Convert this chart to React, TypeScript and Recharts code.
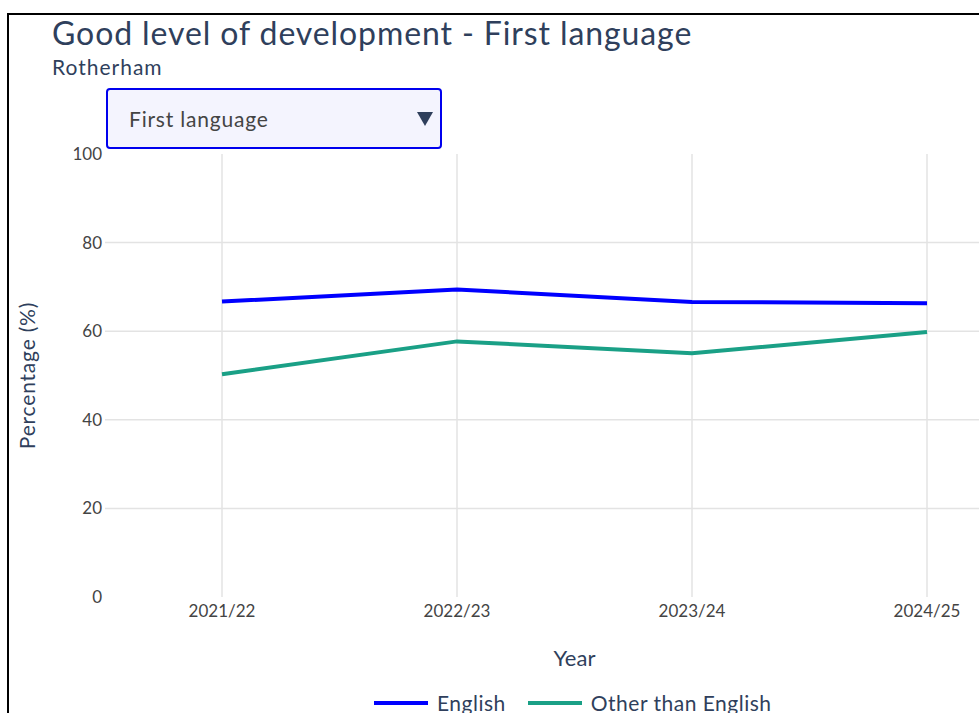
import { LineChart, Line, XAxis, YAxis, CartesianGrid } from 'recharts';

const years = ['2021/22', '2022/23', '2023/24', '2024/25'];
const english = [66.7, 69.4, 66.6, 66.3];
const otherThanEnglish = [50.3, 57.7, 55.0, 59.8];
const yTicks = [0, 20, 40, 60, 80, 100];

const data = years.map((year, i) => ({
  year,
  english: english[i],
  other: otherThanEnglish[i],
}));

const FONT = 'Lato, "Open Sans", sans-serif';
const TEXT = '#2f3f5c';
const TICK = '#444';
const BLUE = '#0000ff';
const TEAL = '#1aa086';

function LegendItem({ color, label }: { color: string; label: string }) {
  return (
    <div style={{ display: 'flex', alignItems: 'center', gap: 9 }}>
      <div style={{ width: 54, height: 4, background: color }} />
      <span>{label}</span>
    </div>
  );
}

export default function App() {
  return (
    <div
      style={{
        position: 'fixed',
        left: 0,
        top: 0,
        width: 979,
        height: 713,
        overflow: 'hidden',
        background: '#fff',
        fontFamily: FONT,
      }}
    >
      <div
        style={{
          position: 'absolute',
          left: 7,
          top: 13,
          width: 1100,
          height: 800,
          border: '2px solid #000',
        }}
      />
      <div
        style={{
          position: 'absolute',
          left: 52,
          top: 13,
          fontSize: 32,
          letterSpacing: 0.9,
          color: TEXT,
          whiteSpace: 'nowrap',
        }}
      >
        Good level of development - First language
      </div>
      <div style={{ position: 'absolute', left: 52, top: 54, fontSize: 21, letterSpacing: 1, color: TEXT }}>
        Rotherham
      </div>

      <div style={{ position: 'absolute', left: 0, top: 0 }}>
        <LineChart width={1044} height={713} data={data} margin={{ top: 154, right: 0, left: 0, bottom: 0 }}>
          <CartesianGrid
            stroke="#e3e3e3"
            strokeWidth={1.5}
            horizontalValues={[20, 40, 60, 80]}
            verticalValues={years}
          />
          <XAxis
            dataKey="year"
            padding={{ left: 117, right: 117 }}
            height={116}
            tickLine={false}
            axisLine={false}
            tickSize={0}
            tickMargin={8}
            tick={{ fontSize: 17, fill: TICK, fontFamily: FONT }}
            label={({ viewBox }: any) => (
              <text
                x={viewBox.x + viewBox.width / 2}
                y={viewBox.y + 69}
                textAnchor="middle"
                fontSize={22}
                fill={TEXT}
                fontFamily={FONT}
              >
                Year
              </text>
            )}
          />
          <YAxis
            domain={[0, 100]}
            ticks={yTicks}
            width={105}
            tickLine={false}
            axisLine={false}
            tickSize={0}
            tickMargin={3}
            tick={{ fontSize: 17, fill: TICK, fontFamily: FONT }}
            label={({ viewBox }: any) => {
              const cy = viewBox.y + viewBox.height / 2;
              return (
                <text
                  x={35}
                  y={cy}
                  transform={`rotate(-90 35 ${cy})`}
                  textAnchor="middle"
                  fontSize={21}
                  letterSpacing={0.8}
                  fill={TEXT}
                  fontFamily={FONT}
                >
                  Percentage (%)
                </text>
              );
            }}
          />
          <Line dataKey="english" name="English" stroke={BLUE} strokeWidth={4} dot={false} isAnimationActive={false} />
          <Line dataKey="other" name="Other than English" stroke={TEAL} strokeWidth={4} dot={false} isAnimationActive={false} />
        </LineChart>
      </div>

      <div
        style={{
          position: 'absolute',
          left: 106,
          top: 88,
          width: 336,
          height: 61,
          border: '2px solid #0000ee',
          borderRadius: 4,
          background: '#f4f4fe',
          display: 'flex',
          alignItems: 'center',
          justifyContent: 'space-between',
          padding: '0 7px 0 21px',
          boxSizing: 'border-box',
          fontSize: 21,
          letterSpacing: 0.8,
          color: '#444',
        }}
      >
        <span>First language</span>
        <svg width={16} height={14} viewBox="0 0 16 14">
          <polygon points="0,0 16,0 8,14" fill="#2f3f5c" />
        </svg>
      </div>

      <div
        style={{
          position: 'absolute',
          left: 374,
          top: 690,
          display: 'flex',
          gap: 22,
          fontSize: 21,
          letterSpacing: 0.5,
          color: TEXT,
          whiteSpace: 'nowrap',
        }}
      >
        <LegendItem color={BLUE} label="English" />
        <LegendItem color={TEAL} label="Other than English" />
      </div>
    </div>
  );
}
